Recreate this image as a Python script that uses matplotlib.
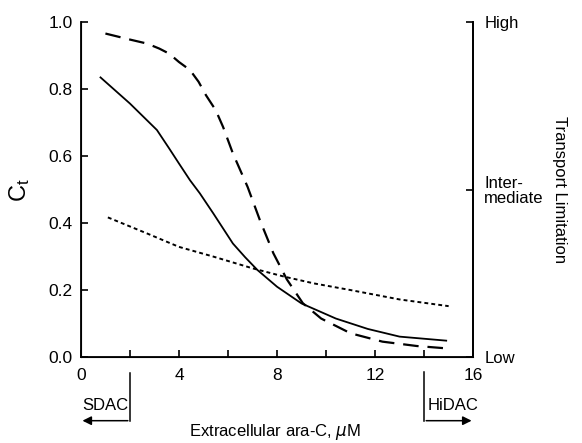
import matplotlib
matplotlib.use("Agg")
import matplotlib.pyplot as plt

plt.rcParams['font.family'] = ['Liberation Sans', 'DejaVu Sans']

# curves (extracellular ara-C in uM, C_t)
dash_x = [1.0, 2.0, 2.7, 3.2, 3.6, 4.0, 4.45, 4.8, 5.1, 5.5, 5.8, 6.2, 6.5, 6.8, 7.3, 7.85, 8.4, 9.05, 9.8,
          11.0, 12.3, 13.7, 14.9]
dash_y = [0.966, 0.948, 0.936, 0.921, 0.906, 0.881, 0.857, 0.822, 0.782, 0.737, 0.687, 0.608, 0.558, 0.508,
          0.409, 0.31, 0.232, 0.161, 0.115, 0.071, 0.046, 0.033, 0.026]

solid_x = [0.8, 2.0, 3.1, 3.6, 4.0, 4.45, 4.85, 5.4, 5.8, 6.2, 6.7, 7.2, 8.0, 9.0, 10.4, 11.7, 13.0, 14.9]
solid_y = [0.835, 0.757, 0.678, 0.623, 0.578, 0.528, 0.489, 0.429, 0.384, 0.339, 0.298, 0.26, 0.21, 0.16,
           0.115, 0.084, 0.061, 0.049]

dot_x = [1.1, 2.7, 4.0, 5.4, 7.0, 8.3, 9.5, 11.0, 13.0, 15.0]
dot_y = [0.417, 0.369, 0.329, 0.3, 0.265, 0.24, 0.22, 0.2, 0.172, 0.152]

x_major = [0, 4, 8, 12, 16]
x_minor = [2, 6, 10, 14]
y_ticks = [0.0, 0.2, 0.4, 0.6, 0.8, 1.0]
right_ticks = [0.0, 0.5, 1.0]
right_labels = ['Low', 'Inter-\nmediate', 'High']

fig = plt.figure(figsize=(5.82, 4.43), dpi=100)
ax = fig.add_axes([0.139, 0.194, 0.674, 0.756])

ax.plot(dash_x, dash_y, color='black', lw=1.6, dashes=(7, 4))
ax.plot(solid_x, solid_y, color='black', lw=1.3)
ax.plot(dot_x, dot_y, color='black', lw=1.4, dashes=(2, 1.6))

ax.set_xlim(0, 16)
ax.set_ylim(0, 1.0)
ax.set_xticks(x_major)
ax.set_xticks(x_minor, minor=True)
ax.set_yticks(y_ticks)
ax.set_yticklabels([f'{v:.1f}' for v in y_ticks])
ax.tick_params(which='both', direction='in', length=5, width=1.2, labelsize=12.5)
ax.tick_params(axis='x', pad=8)
ax.tick_params(axis='y', pad=6)
ax.spines['top'].set_visible(False)
for s in ['left', 'bottom', 'right']:
    ax.spines[s].set_linewidth(1.3)

ax.set_ylabel(r'$\mathregular{C_t}$', fontsize=17, labelpad=12)

ax2 = ax.twinx()
ax2.set_ylim(0, 1.0)
ax2.set_yticks(right_ticks)
ax2.set_yticklabels(right_labels, ha='left', linespacing=0.95)
ax2.tick_params(direction='in', length=5, width=1.2, labelsize=12, pad=8)
ax2.spines['top'].set_visible(False)
ax2.spines['right'].set_linewidth(1.3)

fig.text(275 / 582, 1 - 432 / 443, 'Extracellular ara-C, $\\mu$M', fontsize=12, ha='center', va='center')
fig.text(560 / 582, 1 - 190 / 443, 'Transport Limitation', fontsize=12, rotation=-90,
         ha='center', va='center')

# SDAC / HiDAC brackets below the axis
ax.plot([2, 2], [-0.048, -0.19], color='black', lw=1.1, clip_on=False)
ax.annotate('', xy=(-0.05, -0.19), xytext=(2.03, -0.19), xycoords='data',
            arrowprops=dict(arrowstyle='-|>', color='black', lw=1.1, mutation_scale=13),
            annotation_clip=False)
ax.text(0.05, -0.145, 'SDAC', fontsize=12, ha='left', va='center', clip_on=False)

ax.plot([14, 14], [-0.045, -0.19], color='black', lw=1.1, clip_on=False)
ax.annotate('', xy=(16.05, -0.19), xytext=(13.97, -0.19), xycoords='data',
            arrowprops=dict(arrowstyle='-|>', color='black', lw=1.1, mutation_scale=13),
            annotation_clip=False)
ax.text(14.15, -0.145, 'HiDAC', fontsize=12, ha='left', va='center', clip_on=False)

fig.savefig('out.png', dpi=100)
